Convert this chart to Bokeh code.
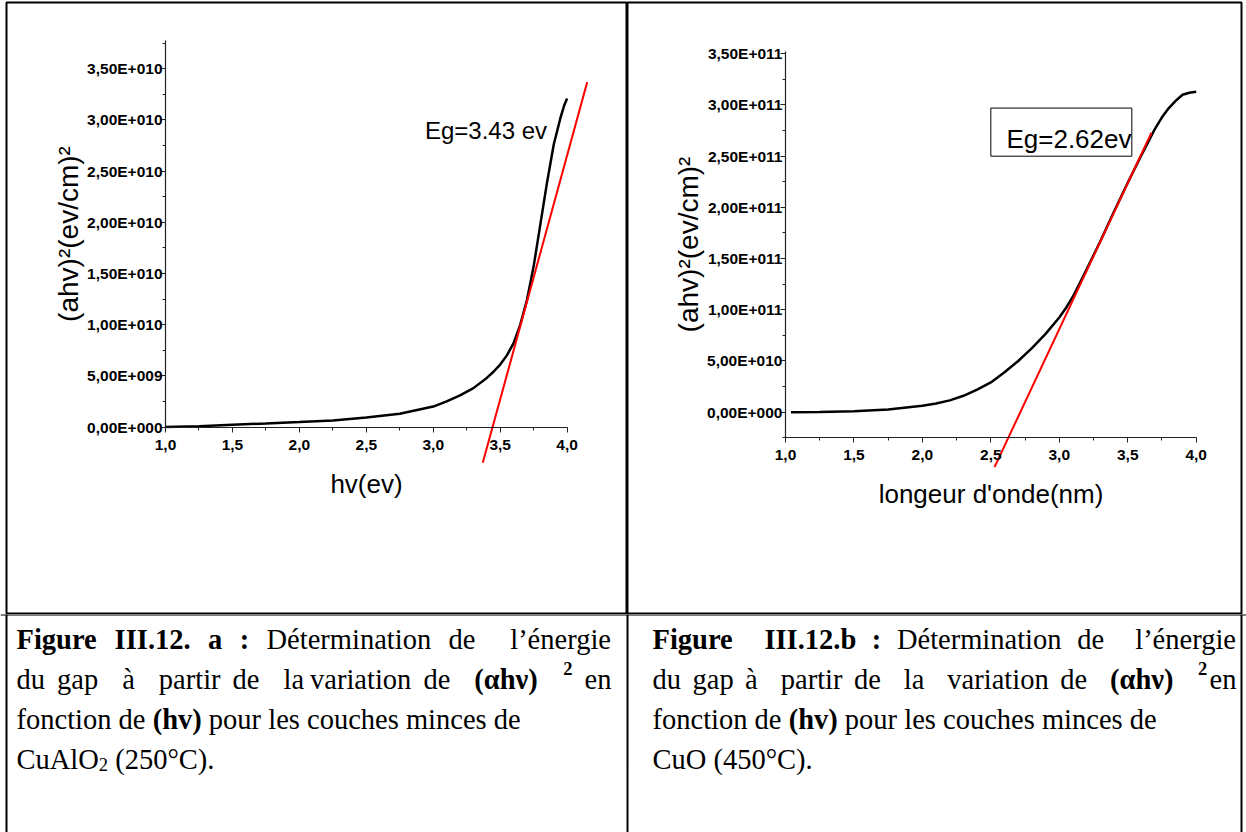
from bokeh.plotting import figure
from bokeh.models import Range1d, FixedTicker, LinearAxis, Label, BoxAnnotation, Span
from bokeh.layouts import column, row
from bokeh.embed import file_html
from bokeh.resources import INLINE

# ---------------- data ----------------
# (a) CuAlO2 (250°C)
a_hv = [1.0, 1.25, 1.5, 1.75, 2.0, 2.25, 2.5, 2.75, 3.0, 3.1, 3.2, 3.3, 3.4, 3.45,
        3.5, 3.55, 3.6, 3.65, 3.7, 3.75, 3.8, 3.85, 3.9, 3.95, 3.98, 4.0]
a_y = [0.0, 0.008e10, 0.022e10, 0.035e10, 0.049e10, 0.064e10, 0.093e10, 0.13e10,
       0.20e10, 0.25e10, 0.31e10, 0.38e10, 0.48e10, 0.54e10, 0.61e10, 0.70e10,
       0.82e10, 1.0e10, 1.24e10, 1.57e10, 1.98e10, 2.39e10, 2.76e10, 3.02e10,
       3.15e10, 3.21e10]
a_fit_x = [3.37, 4.15]
a_fit_y = [-0.35e10, 3.37e10]
a_eg = "Eg=3.43 ev"

# (b) CuO (450°C)
b_hv = [1.04, 1.25, 1.5, 1.75, 2.0, 2.1, 2.2, 2.3, 2.4, 2.5, 2.6, 2.7, 2.8, 2.9,
        3.0, 3.05, 3.1, 3.15, 3.2, 3.3, 3.4, 3.5, 3.6, 3.65, 3.7, 3.75, 3.8,
        3.85, 3.9, 3.95, 4.0]
b_y = [0.0, 0.002e11, 0.008e11, 0.025e11, 0.062e11, 0.085e11, 0.115e11, 0.16e11,
       0.22e11, 0.29e11, 0.39e11, 0.50e11, 0.625e11, 0.765e11, 0.925e11, 1.02e11,
       1.13e11, 1.26e11, 1.395e11, 1.67e11, 1.96e11, 2.24e11, 2.51e11, 2.64e11,
       2.77e11, 2.88e11, 2.97e11, 3.04e11, 3.10e11, 3.12e11, 3.13e11]
b_fit_x = [2.527, 3.673]
b_fit_y = [-0.537e11, 2.729e11]
b_eg = "Eg=2.62ev"

x_ticks = [1.0, 1.5, 2.0, 2.5, 3.0, 3.5, 4.0]
x_tick_labels = ["1,0", "1,5", "2,0", "2,5", "3,0", "3,5", "4,0"]
x_minor = [1.25, 1.75, 2.25, 2.75, 3.25, 3.75]

a_y_ticks = [0.0, 5e9, 1e10, 1.5e10, 2e10, 2.5e10, 3e10, 3.5e10]
a_y_tick_labels = ["0,00E+000", "5,00E+009", "1,00E+010", "1,50E+010",
                   "2,00E+010", "2,50E+010", "3,00E+010", "3,50E+010"]
a_y_minor = [2.5e9, 7.5e9, 1.25e10, 1.75e10, 2.25e10, 2.75e10, 3.25e10, 3.75e10]

b_y_ticks = [0.0, 5e10, 1e11, 1.5e11, 2e11, 2.5e11, 3e11, 3.5e11]
b_y_tick_labels = ["0,00E+000", "5,00E+010", "1,00E+011", "1,50E+011",
                   "2,00E+011", "2,50E+011", "3,00E+011", "3,50E+011"]
b_y_minor = [-2.5e10, 2.5e10, 7.5e10, 1.25e11, 1.75e11, 2.25e11, 2.75e11, 3.25e11]

y_label = "(ahv)²(ev/cm)²"
a_x_label = "hv(ev)"
b_x_label = "longeur d'onde(nm)"

SANS = "Liberation Sans"
SERIF = "Liberation Serif"


def style_axis(ax, label_standoff, tick_standoff, label_size):
    ax.axis_line_color = "#222222"
    ax.axis_line_width = 1.2
    ax.major_tick_in = 0
    ax.major_tick_out = 5
    ax.minor_tick_in = 0
    ax.minor_tick_out = 3
    ax.major_tick_line_color = "#222222"
    ax.minor_tick_line_color = "#222222"
    ax.major_label_text_font = SANS
    ax.major_label_text_font_style = "bold"
    ax.major_label_text_font_size = "15.5px"
    ax.major_label_text_color = "black"
    ax.major_label_standoff = tick_standoff
    ax.axis_label_text_font = SANS
    ax.axis_label_text_font_style = "normal"
    ax.axis_label_text_font_size = label_size
    ax.axis_label_text_color = "black"
    ax.axis_label_standoff = label_standoff


def chart(width, xr, yr, mb_left, mb_right, hv, y, fit_x, fit_y,
          y_ticks, y_labels, y_minor, y_bounds, x_loc, x_label):
    p = figure(width=width, height=614, x_range=Range1d(*xr), y_range=Range1d(*yr),
               x_axis_type=None, y_axis_type=None, toolbar_location=None,
               output_backend="svg", min_border_left=mb_left, min_border_right=mb_right,
               min_border_top=2, min_border_bottom=0,
               outline_line_color="black", outline_line_width=2,
               background_fill_color="white", border_fill_color="white")
    xa = LinearAxis(fixed_location=x_loc, bounds=(1.0, 4.0),
                    ticker=FixedTicker(ticks=x_ticks, minor_ticks=x_minor),
                    major_label_overrides=dict(zip(x_ticks, x_tick_labels)),
                    axis_label=x_label)
    style_axis(xa, 16, 7, "26px")
    p.add_layout(xa, "below")
    ya = LinearAxis(fixed_location=1.0, bounds=y_bounds,
                    ticker=FixedTicker(ticks=y_ticks, minor_ticks=y_minor),
                    major_label_overrides=dict(zip(y_ticks, y_labels)),
                    axis_label=y_label)
    style_axis(ya, 0, -2, "28px")
    p.add_layout(ya, "left")
    p.line(hv, y, line_color="black", line_width=2.5)
    p.line(fit_x, fit_y, line_color="#ff0000", line_width=2)
    return p


p1 = chart(627, (-0.1877, 4.451), (-1.832e10, 4.148e10), 6, 0, a_hv, a_y,
           a_fit_x, a_fit_y, a_y_ticks, a_y_tick_labels, a_y_minor,
           (-0.5e8, 3.78e10), -0.5e8, a_x_label)
p1.add_layout(Label(x=2.938, y=2.9e10, text=a_eg, text_font=SANS,
                    text_font_size="24px", text_color="black",
                    text_baseline="alphabetic"))

p2 = chart(619, (-0.154, 4.331), (-1.976e11, 4.001e11), 0, 5, b_hv, b_y,
           b_fit_x, b_fit_y, b_y_ticks, b_y_tick_labels, b_y_minor,
           (-2.5e10, 3.52e11), -2.5e10, b_x_label)
p2.add_layout(BoxAnnotation(left=2.5, right=3.53, bottom=2.5e11, top=2.97e11,
                            fill_color=None, fill_alpha=0, line_color="black",
                            line_alpha=1, line_width=1))
p2.add_layout(Label(x=2.614, y=2.67e11, text=b_eg, text_font=SANS,
                    text_font_size="26px", text_color="black",
                    text_baseline="alphabetic"))

# ---------------- caption row ----------------
p3 = figure(width=1246, height=218, x_range=Range1d(0, 1246), y_range=Range1d(218, 0),
            x_axis_type=None, y_axis_type=None, toolbar_location=None,
            output_backend="svg", min_border=0, outline_line_color=None,
            background_fill_color="white", border_fill_color="white")
for loc in (6, 627, 1241):
    p3.add_layout(Span(location=loc, dimension="height", line_color="black", line_width=2))
p3.add_layout(Span(location=0, dimension="width", line_color="black", line_width=2))

# advance widths (per em) of Times-metric serif, for placing justified words
REG = {' ': .25, 'a': .444, 'b': .5, 'c': .444, 'd': .5, 'e': .444, 'f': .333,
       'g': .5, 'h': .5, 'i': .278, 'l': .278, 'm': .778, 'n': .5, 'o': .5,
       'p': .5, 'r': .333, 's': .389, 't': .278, 'u': .5, 'v': .5, 'à': .444,
       'é': .444, 'D': .722, 'C': .667, 'A': .722, 'O': .722, '’': .333,
       '(': .333, ')': .333, '.': .25, '°': .4, ':': .278}
BLD = {' ': .25, 'F': .611, 'i': .278, 'g': .5, 'u': .556, 'r': .444, 'e': .444,
       'I': .389, '.': .25, 'a': .5, ':': .333, 'b': .556, '(': .333, ')': .333,
       'h': .556, 'v': .5, 'α': .56, 'ν': .5}
FS = 28.5
SUP = 18.5


def width(text, bold, size):
    tab = BLD if bold else REG
    return sum(tab.get(ch, .5) for ch in text) * size


def place(tokens, x0, y, x1=None):
    # tokens: (text, bold, spaces_before, size, dy)
    ws = [width(t[0], t[1], t[3]) for t in tokens]
    nsp = sum(t[2] for t in tokens[1:])
    sw = (x1 - x0 - sum(ws)) / nsp if x1 is not None else 0.25 * FS
    x = x0
    for i, (t, w) in enumerate(zip(tokens, ws)):
        if i:
            x += t[2] * sw
        p3.add_layout(Label(x=x, y=y + t[4], text=t[0], text_font=SERIF,
                            text_font_size=f"{t[3]}px",
                            text_font_style="bold" if t[1] else "normal",
                            text_color="black", text_baseline="alphabetic"))
        x += w


def R(t, sp=1):
    return (t, False, sp, FS, 0)


def B(t, sp=1):
    return (t, True, sp, FS, 0)


L1, L2, L3, L4 = 25, 65, 105, 145

# left caption
place([B("Figure", 0), B("III.12."), B("a"), B(":"), R("Détermination"), R("de"),
       R("l’énergie", 2)], 16, L1, 611)
place([R("du", 0), R("gap"), R("à", 2), R("partir", 2), R("de"), R("la", 2),
       R("variation", 0.5), R("de"), B("(αhν)", 2), ("2", True, 2, SUP, -11),
       R("en")], 16, L2, 611)
place([R("fonction", 0), R("de"), B("(hv)"), R("pour"), R("les"), R("couches"),
       R("minces"), R("de")], 16, L3)
place([R("CuAlO", 0), ("2", False, 0, SUP, 5), R("(250°C).")], 16, L4)

# right caption
place([B("Figure", 0), B("III.12.b", 2), B(":"), R("Détermination"), R("de"),
       R("l’énergie", 2)], 652, L1, 1236)
place([R("du", 0), R("gap"), R("à"), R("partir", 2), R("de"), R("la", 2),
       R("variation", 2), R("de"), B("(αhν)", 2), ("2", True, 2, SUP, -11),
       R("en", 0.2)], 652, L2, 1236)
place([R("fonction", 0), R("de"), B("(hv)"), R("pour"), R("les"), R("couches"),
       R("minces"), R("de")], 652, L3)
place([R("CuO", 0), R("(450°C).")], 652, L4)

layout = column(row(p1, p2), p3)
open("out.html", "w").write(file_html(layout, INLINE))
